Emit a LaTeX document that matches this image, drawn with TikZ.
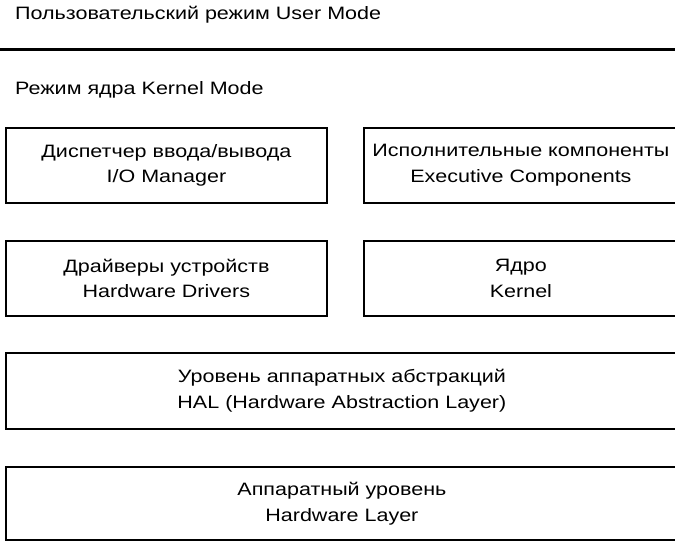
\documentclass[tikz,border=0pt]{standalone}
\usepackage{fontspec}
\setmainfont{Liberation Sans}[FakeStretch=1.2]
\usetikzlibrary{positioning}
\tikzset{
  modetext/.style={
    anchor=west,
    inner sep=0pt,
    font=\fontsize{18}{26}\selectfont
  },
  layer/.style={
    draw=black,
    line width=1.8bp,
    anchor=north west,
    align=center,
    inner sep=0pt,
    font=\fontsize{18}{26}\selectfont
  }
}

\begin{document}
\begin{tikzpicture}[x=1bp,y=-1bp]
\useasboundingbox (0,0) rectangle (675,541);
\clip (0,0) rectangle (675,541);

% user / kernel mode split
\node[modetext] (user) at (15,15) {Пользовательский режим User Mode};
\coordinate (sepL) at (0,50);
\coordinate (sepR) at (675,50);
\draw[line width=3bp] (sepL) -- (sepR);
\node[modetext] (kernelmode) at (15,90) {Режим ядра Kernel Mode};

% kernel components
\node[layer, minimum width=321bp, minimum height=75bp] (io) at (5,127)
  {Диспетчер ввода/вывода\\I/O Manager};
\node[layer, minimum width=314bp, minimum height=75bp] (exec) at (363,127)
  {Исполнительные компоненты\\Executive Components};
\node[layer, minimum width=321bp, minimum height=75bp] (drv) at (5,240)
  {Драйверы устройств\\Hardware Drivers};
\node[layer, minimum width=314bp, minimum height=75bp] (kern) at (363,240)
  {Ядро\\Kernel};

% lower layers
\node[layer, minimum width=672bp, minimum height=76bp] (hal) at (5,352)
  {Уровень аппаратных абстракций\\HAL (Hardware Abstraction Layer)};
\node[layer, minimum width=672bp, minimum height=73bp] (hw) at (5,466)
  {Аппаратный уровень\\Hardware Layer};
\end{tikzpicture}
\end{document}
